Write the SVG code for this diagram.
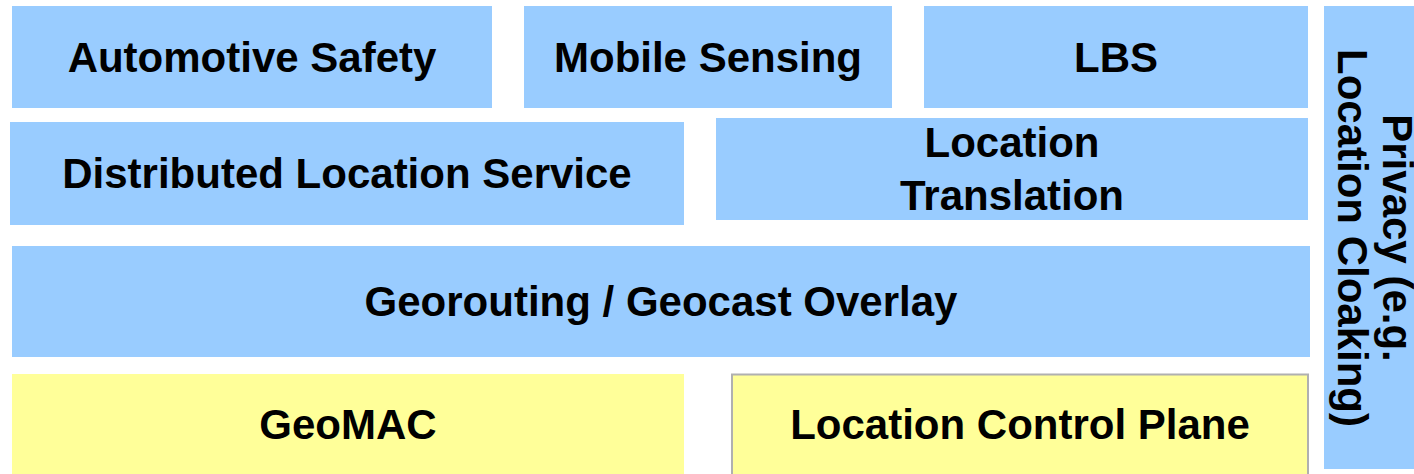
<svg xmlns="http://www.w3.org/2000/svg" width="1414" height="474" viewBox="0 0 1414 474">
<style>
.b{fill:#99ccff}
.y{fill:#ffff99}
.t{font-family:"Liberation Sans",Arial,sans-serif;font-weight:bold;font-size:42px;fill:#000;text-anchor:middle}
</style>
<rect width="1414" height="474" fill="#fff"/>
<g id="automotive-safety"><rect class="b" x="12" y="6" width="480" height="102"/><text class="t" x="252" y="72">Automotive Safety</text></g>
<g id="mobile-sensing"><rect class="b" x="524" y="6" width="368" height="102"/><text class="t" x="708" y="72">Mobile Sensing</text></g>
<g id="lbs"><rect class="b" x="924" y="6" width="384" height="102"/><text class="t" x="1116" y="72">LBS</text></g>
<g id="distributed-location-service"><rect class="b" x="10" y="122" width="674" height="103"/><text class="t" x="347" y="188">Distributed Location Service</text></g>
<g id="location-translation"><rect class="b" x="716" y="118" width="592" height="102"/><text class="t" x="1012" y="157">Location</text><text class="t" x="1012" y="210">Translation</text></g>
<g id="georouting"><rect class="b" x="12" y="246" width="1298" height="111"/><text class="t" x="661" y="316">Georouting / Geocast Overlay</text></g>
<g id="geomac"><rect class="y" x="12" y="374" width="672" height="100"/><text class="t" x="348" y="439">GeoMAC</text></g>
<g id="location-control-plane"><rect class="y" x="732" y="374.5" width="576" height="101" stroke="#b0b0b0" stroke-width="2"/><text class="t" x="1020" y="439">Location Control Plane</text></g>
<g id="privacy"><rect class="b" x="1324" y="6" width="90" height="463"/><g transform="translate(1338,238) rotate(90)"><text class="t" x="0" y="-45">Privacy (e.g.</text><text class="t" x="0" y="0">Location Cloaking)</text></g></g>
<g id="connectors"></g>
</svg>
